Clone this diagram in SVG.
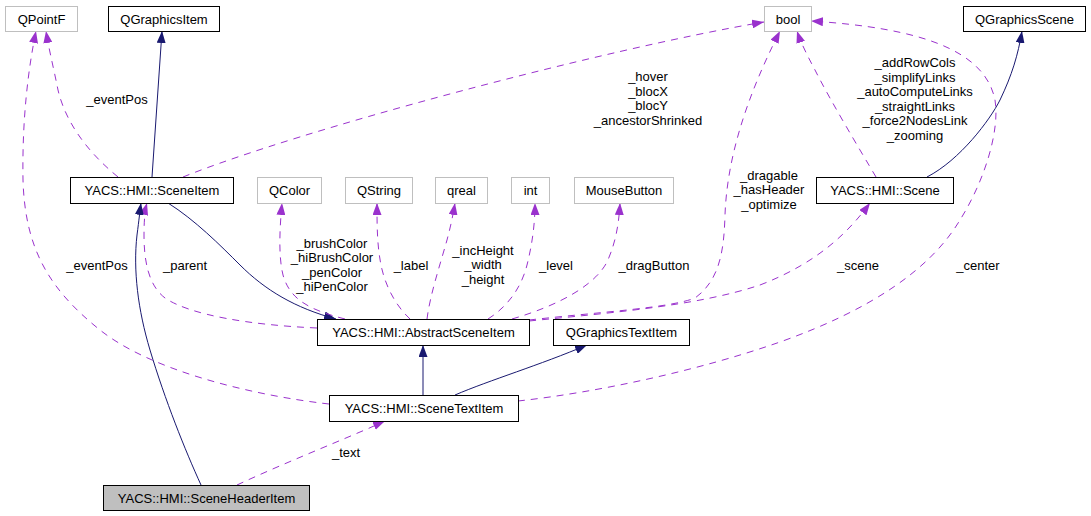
<svg xmlns="http://www.w3.org/2000/svg" width="1091" height="516" viewBox="0 0 1091 516">
<style>
text{font-family:"Liberation Sans",Arial,sans-serif;font-size:13px;fill:#000}
.n text,.lbl{text-anchor:middle}
.b{fill:#fff;stroke:#000;stroke-width:1}
.g{fill:#fff;stroke:#bfbfbf;stroke-width:1}
.h{fill:#bfbfbf;stroke:#000;stroke-width:1}
.u{fill:none;stroke:#9a32cd;stroke-width:1;stroke-dasharray:7,6;marker-end:url(#ap)}
.s{fill:none;stroke:#191970;stroke-width:1;marker-end:url(#an)}
</style>
<defs>
<marker id="ap" viewBox="0 0 12 9" refX="12" refY="4.5" markerWidth="12" markerHeight="9" markerUnits="userSpaceOnUse" orient="auto"><path d="M0,0 L12,4.5 L0,9 z" fill="#9a32cd"/></marker>
<marker id="an" viewBox="0 0 12 9" refX="12" refY="4.5" markerWidth="12" markerHeight="9" markerUnits="userSpaceOnUse" orient="auto"><path d="M0,0 L12,4.5 L0,9 z" fill="#191970"/></marker>
</defs>
<rect width="1091" height="516" fill="#fff"/>
<g id="connectors">
<path class="u" d="M118,177 C85,150 65,120 58,90 C53,65 49,50 46,31"/>
<path class="u" d="M329,404 C250,395 150,370 100,330 C50,290 25,250 23,180 C22,120 28,70 36,31"/>
<path class="s" d="M152,177 L162,31"/>
<path class="u" d="M183,177 C300,130 600,50 764,22"/>
<path class="s" d="M168,203 C195,220 220,245 240,265 C265,290 295,308 336,319"/>
<path class="u" d="M317,328 C250,325 190,315 165,298 C148,285 144,260 144,235 C144,220 145,210 147,203"/>
<path class="s" d="M201,485 C185,450 165,400 150,350 C138,310 133,270 137,235 C139,220 140,210 141,203"/>
<path class="u" d="M345,319 C310,310 290,300 283,275 C278,255 280,225 282,203"/>
<path class="u" d="M410,319 C395,305 385,285 381,265 C377,245 377,225 377,203"/>
<path class="u" d="M427,319 C430,295 440,265 447,240 C451,225 453,215 455,203"/>
<path class="u" d="M488,319 C510,305 522,285 527,265 C532,245 535,225 535,203"/>
<path class="u" d="M512,319 C560,305 595,285 607,262 C617,240 619,220 620,203"/>
<path class="u" d="M529,320 C600,312 670,308 695,298 C720,280 724,250 725,215 C727,160 745,100 780,31"/>
<path class="u" d="M529,321 C620,312 700,305 760,285 C820,262 850,230 870,203"/>
<path class="u" d="M518,401 C600,392 700,370 780,342 C870,310 930,270 960,220 C985,180 1000,130 995,100 C985,50 920,28 811,21"/>
<path class="u" d="M876,177 C860,150 830,100 815,70 C807,55 801,43 797,31"/>
<path class="s" d="M927,177 C960,160 990,120 1000,100 C1012,75 1018,55 1022,31"/>
<path class="s" d="M423,395 L423,345"/>
<path class="s" d="M455,395 C490,380 540,365 587,345"/>
<path class="u" d="M237,485 C280,465 330,445 360,432 C370,428 378,424 385,421"/>
</g>
<g id="labels">
<text class="lbl" x="117" y="103.5">_eventPos</text>
<text class="lbl" x="648" y="81">_hover</text>
<text class="lbl" x="648" y="95.5">_blocX</text>
<text class="lbl" x="648" y="110">_blocY</text>
<text class="lbl" x="648" y="124.5">_ancestorShrinked</text>
<text class="lbl" x="915" y="67">_addRowCols</text>
<text class="lbl" x="915" y="81.5">_simplifyLinks</text>
<text class="lbl" x="915" y="96">_autoComputeLinks</text>
<text class="lbl" x="915" y="110.5">_straightLinks</text>
<text class="lbl" x="915" y="125">_force2NodesLink</text>
<text class="lbl" x="915" y="139.5">_zooming</text>
<text class="lbl" x="769" y="179.5">_dragable</text>
<text class="lbl" x="769" y="194">_hasHeader</text>
<text class="lbl" x="769" y="208.5">_optimize</text>
<text class="lbl" x="332" y="247.5">_brushColor</text>
<text class="lbl" x="332" y="262">_hiBrushColor</text>
<text class="lbl" x="332" y="276.5">_penColor</text>
<text class="lbl" x="332" y="291">_hiPenColor</text>
<text class="lbl" x="411" y="269.5">_label</text>
<text class="lbl" x="483" y="254.5">_incHeight</text>
<text class="lbl" x="483" y="269">_width</text>
<text class="lbl" x="483" y="283.5">_height</text>
<text class="lbl" x="556" y="269.5">_level</text>
<text class="lbl" x="654" y="269.5">_dragButton</text>
<text class="lbl" x="858" y="269.5">_scene</text>
<text class="lbl" x="978" y="269.5">_center</text>
<text class="lbl" x="97" y="269.5">_eventPos</text>
<text class="lbl" x="185" y="269.5">_parent</text>
<text class="lbl" x="346" y="456.5">_text</text>
</g>
<g id="QPointF" class="n"><rect class="g" x="5.5" y="6.5" width="72" height="25"/><text x="41.5" y="23.5">QPointF</text></g>
<g id="QGraphicsItem" class="n"><rect class="b" x="108.5" y="6.5" width="111" height="25"/><text x="164" y="23.5">QGraphicsItem</text></g>
<g id="bool" class="n"><rect class="g" x="764.5" y="6.5" width="47" height="25"/><text x="788" y="23.5">bool</text></g>
<g id="QGraphicsScene" class="n"><rect class="b" x="963.5" y="6.5" width="122" height="25"/><text x="1024.5" y="23.5">QGraphicsScene</text></g>
<g id="SceneItem" class="n"><rect class="b" x="70.5" y="177.5" width="163" height="26"/><text x="152" y="195">YACS::HMI::SceneItem</text></g>
<g id="QColor" class="n"><rect class="g" x="257.5" y="177.5" width="64" height="26"/><text x="289.5" y="195">QColor</text></g>
<g id="QString" class="n"><rect class="g" x="345.5" y="177.5" width="67" height="26"/><text x="379" y="195">QString</text></g>
<g id="qreal" class="n"><rect class="g" x="435.5" y="177.5" width="52" height="26"/><text x="461.5" y="195">qreal</text></g>
<g id="int" class="n"><rect class="g" x="511.5" y="177.5" width="38" height="26"/><text x="530.5" y="195">int</text></g>
<g id="MouseButton" class="n"><rect class="g" x="574.5" y="177.5" width="99" height="26"/><text x="624" y="195">MouseButton</text></g>
<g id="Scene" class="n"><rect class="b" x="816.5" y="177.5" width="137" height="26"/><text x="885" y="195">YACS::HMI::Scene</text></g>
<g id="AbstractSceneItem" class="n"><rect class="b" x="317.5" y="319.5" width="212" height="26"/><text x="423.5" y="337">YACS::HMI::AbstractSceneItem</text></g>
<g id="QGraphicsTextItem" class="n"><rect class="b" x="553.5" y="319.5" width="136" height="26"/><text x="621.5" y="337">QGraphicsTextItem</text></g>
<g id="SceneTextItem" class="n"><rect class="b" x="329.5" y="395.5" width="189" height="26"/><text x="424" y="413">YACS::HMI::SceneTextItem</text></g>
<g id="SceneHeaderItem" class="n"><rect class="h" x="103.5" y="485.5" width="206" height="25"/><text x="206.5" y="502.5">YACS::HMI::SceneHeaderItem</text></g>
</svg>
